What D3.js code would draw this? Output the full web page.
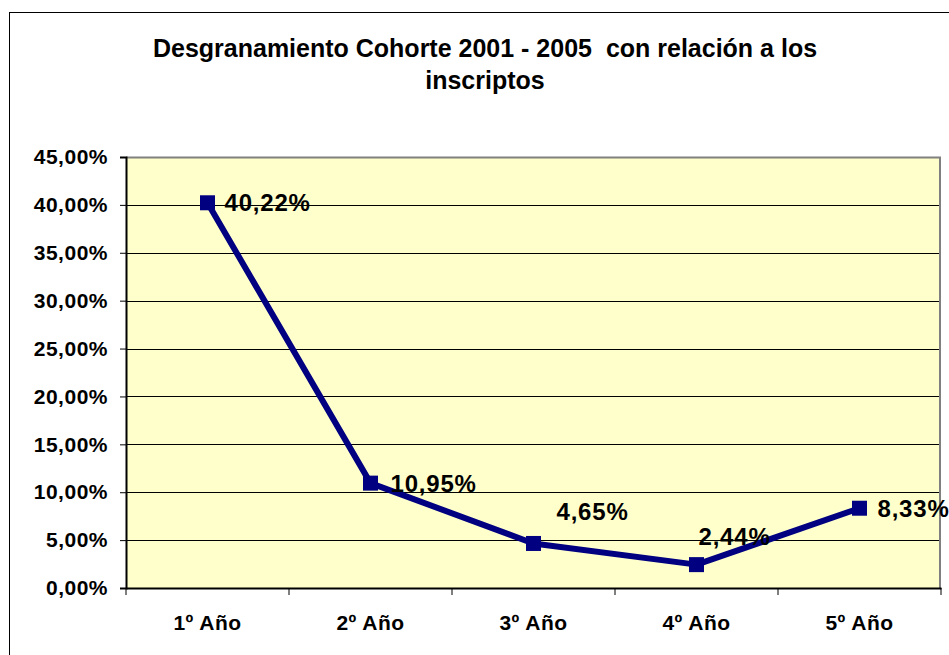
<!DOCTYPE html>
<meta charset="utf-8">
<script src="https://d3js.org/d3.v7.min.js"></script>
<style>
body { margin: 0; background: #fff; }
text { font-family: "Liberation Sans", Arial, sans-serif; font-weight: bold; fill: #000; }
</style>
<body>
<div id="chart"></div>
</body>
<script>

// data
const years = ["1º Año", "2º Año", "3º Año", "4º Año", "5º Año"];
const values = [40.22, 10.95, 4.65, 2.44, 8.33];
const yTicks = [0, 5, 10, 15, 20, 25, 30, 35, 40, 45];
const titleLines = ["Desgranamiento Cohorte 2001 - 2005  con relación a los", "inscriptos"];
// label nudges (Excel labels were dragged by hand)
const labelDx = [17, 20, 23, 2, 18];
const labelDy = [0, 0, -32, -28, 0];

const W = 949, H = 655;
const margin = {top: 157, right: 8, bottom: 67, left: 126};
const width = W - margin.left - margin.right,
	height = H - margin.top - margin.bottom;

const svg = d3.select("#chart").append("svg")
	.attr("width", W)
	.attr("height", H);

// outer chart border
svg.append("rect")
	.attr("x", 9.5).attr("y", 12.5)
	.attr("width", W + 20).attr("height", H + 20)
	.attr("fill", "#fff").attr("stroke", "#000").attr("stroke-width", 1);

// title
svg.append("text")
	.attr("text-anchor", "middle")
	.style("font-size", "25px")
	.style("white-space", "pre")
	.attr("xml:space", "preserve")
	.selectAll("tspan")
	.data(titleLines)
	.enter().append("tspan")
		.attr("x", 485)
		.attr("y", (d, i) => 57 + i * 32)
		.text(d => d);

const g = svg.append("g")
	.attr("transform", `translate(${margin.left},${margin.top})`);

const x = d3.scaleBand().domain(years).range([0, width]);
const y = d3.scaleLinear().domain([0, 45]).range([height, 0]);

// plot area
g.append("rect")
	.attr("width", width).attr("height", height)
	.attr("fill", "#FFFFCC");

// gridlines
g.append("g")
	.selectAll("line")
	.data(yTicks.slice(1, -1))
	.enter().append("line")
		.attr("x1", 0).attr("x2", width)
		.attr("y1", d => Math.round(y(d)) + 0.5)
		.attr("y2", d => Math.round(y(d)) + 0.5)
		.attr("stroke", "#000").attr("stroke-width", 1);

// gray frame top / right
g.append("path")
	.attr("d", `M0,0.5H${width - 1}V${height}`)
	.attr("fill", "none").attr("stroke", "#808080").attr("stroke-width", 2);

const fmt = d => d3.format(".2f")(d).replace(".", ",") + "%";

// y axis
const yAxis = g.append("g")
	.call(d3.axisLeft(y).tickValues(yTicks).tickSize(6).tickPadding(12).tickFormat(fmt));
yAxis.select(".domain").attr("stroke", "#000").attr("stroke-width", 2);
yAxis.selectAll(".tick line").attr("stroke", "#000");
yAxis.selectAll("text")
	.style("font-size", "21px").style("letter-spacing", "0.5px")
	.attr("font-family", null);

// x axis with ticks at category boundaries
const xAxis = g.append("g")
	.attr("transform", `translate(0,${height})`)
	.call(d3.axisBottom(x).tickSize(0).tickPadding(27));
xAxis.select(".domain").attr("stroke", "#000").attr("stroke-width", 2);
xAxis.selectAll("text")
	.style("font-size", "21px").style("letter-spacing", "0.5px")
	.attr("font-family", null);
xAxis.append("g")
	.selectAll("line")
	.data(d3.range(years.length + 1))
	.enter().append("line")
		.attr("x1", i => i * x.step()).attr("x2", i => i * x.step())
		.attr("y1", 0).attr("y2", 7)
		.attr("stroke", "#000");

// line
const cx = d => x(d) + x.bandwidth() / 2;
const line = d3.line()
	.x((d, i) => cx(years[i]))
	.y(d => y(d));

g.append("path")
	.datum(values)
	.attr("d", line)
	.attr("fill", "none")
	.attr("stroke", "#000080")
	.attr("stroke-width", 6)
	.attr("stroke-linejoin", "round");

// markers
g.selectAll("rect.marker")
	.data(values)
	.enter().append("rect")
		.attr("class", "marker")
		.attr("x", (d, i) => cx(years[i]) - 7.5)
		.attr("y", d => y(d) - 7.5)
		.attr("width", 15).attr("height", 15)
		.attr("fill", "#000080");

// data labels
g.selectAll("text.lbl")
	.data(values)
	.enter().append("text")
		.attr("class", "lbl")
		.attr("x", (d, i) => cx(years[i]) + labelDx[i])
		.attr("y", (d, i) => y(d) + labelDy[i])
		.attr("dy", "0.36em")
		.style("font-size", "24px")
		.style("letter-spacing", "0.8px")
		.text(fmt);

</script>
